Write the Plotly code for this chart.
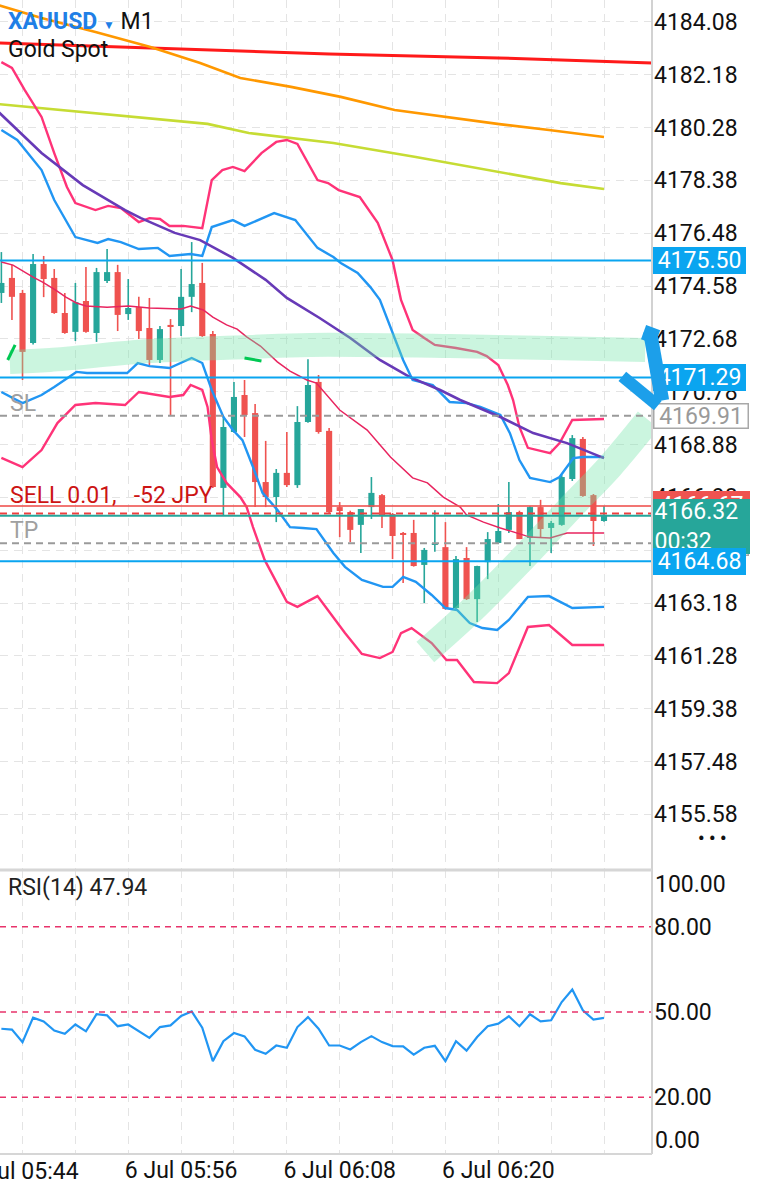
import plotly.graph_objects as go

# ---------------- data ----------------
idx = list(range(58))
opens = [4174.33, 4174.87, 4174.33, 4172.53, 4175.37, 4174.87, 4173.61, 4172.93, 4174.04, 4172.89,
         4174.76, 4175.08, 4173.57, 4173.82, 4173.07, 4171.92, 4173.18, 4173.14, 4174.19, 4174.69,
         4172.85, 4167.32, 4169.33, 4170.66, 4170.01, 4167.53, 4166.99, 4167.86, 4167.42, 4169.69,
         4171.13, 4169.37, 4166.63, 4166.45, 4165.99, 4166.63, 4167.06, 4166.38, 4165.70, 4165.70,
         4164.55, 4165.27, 4165.19, 4163.00, 4164.80, 4163.32, 4164.65, 4165.34, 4165.81, 4166.45,
         4165.52, 4166.63, 4165.88, 4165.99, 4167.64, 4169.08, 4167.06, 4166.13]
highs = [4175.80, 4175.34, 4174.44, 4175.73, 4175.66, 4175.19, 4174.33, 4174.69, 4175.26, 4175.23,
         4175.91, 4175.34, 4174.83, 4174.19, 4174.15, 4173.14, 4173.39, 4175.19, 4176.16, 4175.41,
         4172.96, 4169.90, 4171.13, 4171.20, 4170.34, 4169.01, 4168.00, 4169.33, 4170.26, 4171.95,
         4171.38, 4169.47, 4166.81, 4166.50, 4166.56, 4167.71, 4167.10, 4166.42, 4165.73, 4166.17,
         4165.16, 4166.52, 4166.09, 4164.87, 4165.19, 4164.52, 4165.73, 4166.74, 4167.53, 4166.50,
         4166.66, 4166.89, 4166.13, 4167.78, 4169.22, 4169.15, 4167.10, 4166.67]
lows = [4173.97, 4173.36, 4171.20, 4172.48, 4174.18, 4173.58, 4172.86, 4172.60, 4172.90, 4172.57,
        4174.69, 4172.96, 4173.36, 4172.67, 4171.67, 4171.81, 4169.94, 4172.78, 4173.64, 4172.75,
        4167.32, 4166.31, 4169.30, 4169.15, 4166.63, 4166.63, 4166.09, 4167.35, 4167.32, 4169.66,
        4169.27, 4166.42, 4165.55, 4165.37, 4164.98, 4166.20, 4165.88, 4164.76, 4163.90, 4164.49,
        4163.18, 4165.02, 4162.94, 4162.93, 4163.29, 4162.50, 4164.04, 4165.30, 4165.70, 4165.48,
        4164.51, 4165.55, 4164.98, 4165.96, 4167.57, 4167.00, 4165.23, 4166.10]
closes = [4174.69, 4174.19, 4172.21, 4175.37, 4174.83, 4173.61, 4172.89, 4174.00, 4172.93, 4175.08,
          4175.08, 4173.54, 4173.79, 4172.96, 4171.92, 4173.03, 4173.11, 4174.19, 4174.65, 4172.78,
          4167.35, 4169.51, 4170.59, 4169.94, 4167.53, 4166.99, 4167.86, 4167.42, 4169.69, 4171.02,
          4169.33, 4166.45, 4166.49, 4165.81, 4166.56, 4167.14, 4166.31, 4165.59, 4165.63, 4164.51,
          4165.09, 4165.34, 4162.97, 4164.76, 4163.32, 4164.51, 4165.48, 4165.77, 4166.45, 4165.48,
          4166.63, 4165.84, 4166.06, 4167.71, 4169.11, 4167.03, 4166.13, 4166.32]

rsi = [44.1, 43.8, 39.4, 48.0, 46.7, 43.5, 42.3, 45.6, 43.2, 49.2,
       48.8, 45.0, 45.6, 43.3, 40.9, 44.7, 45.3, 48.6, 50.2, 44.5,
       32.7, 39.7, 42.6, 41.4, 36.7, 35.3, 38.2, 37.4, 44.7, 48.2,
       44.1, 38.2, 38.2, 36.8, 39.4, 41.5, 39.4, 38.0, 37.9, 35.0,
       37.4, 38.1, 32.7, 39.7, 36.4, 41.2, 45.0, 45.9, 48.5, 45.0,
       49.2, 46.7, 47.1, 53.5, 57.9, 50.6, 47.3, 47.94]

# moving averages (candle index, price)
red_ma_x = [-0.3, 16, 31, 47, 61.7]
red_ma_y = [4183.32, 4183.10, 4182.92, 4182.78, 4182.60]
orange_x = [-0.3, 3.8, 8.9, 14.1, 18.8, 22.6, 27.4, 32.1, 37.2, 42.7, 47.1, 51.8, 57]
orange_y = [4184.68, 4184.22, 4183.71, 4183.17, 4182.60, 4182.06, 4181.74, 4181.38, 4180.91,
            4180.62, 4180.40, 4180.19, 4179.94]
lime_x = [-0.3, 7.7, 15.6, 19.5, 23.4, 31.4, 39.2, 47.1, 52.9, 57]
lime_y = [4181.12, 4180.84, 4180.55, 4180.41, 4180.08, 4179.72, 4179.22, 4178.68, 4178.28, 4178.07]
purple_x = [-0.3, 3.8, 7.7, 11.7, 13.2, 16.4, 18.8, 21.9, 25.0, 27.0, 30.1, 33.0, 35.8, 38.6,
            41.5, 43.4, 47.2, 50.3, 53.5, 57]
purple_y = [4180.85, 4179.36, 4178.21, 4177.31, 4177.02, 4176.49, 4176.23, 4175.59, 4174.80,
            4174.15, 4173.43, 4172.71, 4171.92, 4171.31, 4170.84, 4170.48, 4169.87, 4169.29,
            4168.93, 4168.39]

# bollinger middle
mid_x = [0, 1.1, 3, 3.9, 5.1, 6.1, 7.1, 8, 10, 12, 14, 17, 17.9, 19.1, 20, 21.3, 22.3, 23.2,
         24.5, 26.1, 27.3, 28.9, 29.8, 32, 34.6, 36.8, 38.9, 40.3, 41.8, 43.4, 44, 45.6, 47.2,
         48.8, 50, 51.9, 53.5, 55, 57]
mid_y = [4175.44, 4175.33, 4174.90, 4174.72, 4174.44, 4174.18, 4173.97, 4173.86, 4173.82,
         4173.86, 4173.79, 4173.75, 4173.86, 4173.72, 4173.46, 4173.18, 4173.03, 4172.75,
         4172.42, 4171.85, 4171.52, 4171.20, 4171.09, 4170.12, 4169.40, 4168.43, 4167.68,
         4167.50, 4166.99, 4166.63, 4166.35, 4166.09, 4165.88, 4165.70, 4165.55, 4165.52,
         4165.70, 4165.70, 4165.70]
# inner (blue) bands
bu_x = [0, 1.5, 3.8, 5, 7, 9.1, 10.1, 11.3, 13, 14.8, 15.9, 17.9, 19, 19.9, 21.9, 23, 25.8,
        27.8, 29.9, 31.4, 32.1, 33.7, 34.9, 35.8, 38, 38.9, 40.8, 42.4, 44, 45.3, 47.2, 48.1,
        49, 50, 51.9, 52.8, 54.1, 55, 57]
bu_y = [4180.19, 4179.83, 4178.75, 4177.67, 4176.34, 4176.13, 4176.27, 4176.16, 4175.91,
        4175.95, 4175.66, 4175.73, 4175.66, 4176.70, 4176.95, 4176.74, 4177.20, 4176.95,
        4175.95, 4175.62, 4175.41, 4175.05, 4174.54, 4174.08, 4171.92, 4171.20, 4171.02,
        4170.41, 4170.37, 4170.23, 4169.94, 4169.29, 4168.32, 4167.68, 4167.53, 4167.71,
        4168.39, 4168.43, 4168.43]
bl_x = [0, 2, 3.8, 5, 7.1, 8.1, 11.9, 12.9, 14, 15.9, 18, 19, 19.9, 21, 21.9, 22.8, 23.8,
        24.7, 26.1, 27.3, 28.5, 29.8, 31.4, 32.5, 34.1, 36.1, 37, 38, 39.2, 40.7, 42, 43.1,
        44.3, 45.5, 46.9, 48, 49.8, 51.8, 54, 57]
bl_y = [4170.77, 4170.37, 4170.66, 4170.95, 4171.49, 4171.45, 4171.45, 4171.81, 4171.70,
        4171.63, 4171.99, 4171.81, 4170.84, 4169.87, 4169.40, 4169.04, 4168.07, 4167.14,
        4166.53, 4165.91, 4165.88, 4165.84, 4164.98, 4164.48, 4164.01, 4163.76, 4163.76,
        4164.12, 4163.94, 4163.47, 4163.00, 4162.93, 4162.46, 4162.28, 4162.21, 4162.57,
        4163.40, 4163.43, 4163.00, 4163.04]
# outer (pink) bands
pu_x = [0, 1, 2.2, 3.8, 5, 6.2, 7, 8.9, 10.1, 11.3, 13, 14, 15, 15.9, 17.2, 19, 19.9, 20.9,
        21.9, 23, 24.6, 26, 27, 28, 29.9, 30.9, 31.9, 33.9, 35.6, 37, 37.8, 38.9, 40, 41, 43,
        45, 45.9, 47, 47.9, 48.4, 49, 49.8, 51.9, 52.8, 54, 57]
pu_y = [4182.63, 4182.42, 4181.63, 4180.66, 4179.36, 4178.14, 4177.56, 4177.31, 4177.46,
        4177.38, 4176.88, 4177.02, 4176.99, 4176.74, 4176.74, 4176.66, 4178.39, 4178.75,
        4178.86, 4178.71, 4179.36, 4179.76, 4179.83, 4179.69, 4178.39, 4178.28, 4178.03,
        4177.78, 4176.85, 4175.51, 4174.08, 4173.00, 4172.71, 4172.46, 4172.35, 4172.21,
        4172.06, 4171.74, 4171.02, 4170.48, 4169.51, 4168.76, 4168.57, 4168.93, 4169.76, 4169.80]
pl_x = [0, 2, 3.8, 5.3, 7, 8.9, 11.7, 13, 15.9, 17.2, 17.9, 19, 19.5, 19.9, 20.4, 21.3, 22.6,
        23.2, 23.8, 24.9, 27, 28, 29.9, 31.4, 32.5, 34.1, 35.8, 37, 37.8, 38.8, 40.7, 42.1,
        43.1, 44.7, 46.9, 48, 49.8, 51.8, 54, 57]
pl_y = [4168.40, 4168.07, 4168.68, 4169.65, 4170.30, 4170.37, 4170.30, 4170.77, 4170.59,
        4170.66, 4171.02, 4170.84, 4170.23, 4169.04, 4168.07, 4167.50, 4166.99, 4166.63,
        4165.91, 4164.73, 4163.22, 4163.04, 4163.43, 4162.68, 4162.10, 4161.35, 4161.20,
        4161.42, 4162.10, 4162.28, 4161.74, 4161.13, 4161.13, 4160.34, 4160.30, 4160.66,
        4162.32, 4162.39, 4161.67, 4161.67]

# horizontal levels
level_blue = [4175.50, 4171.29, 4164.68]
sl_price = 4169.91
tp_price = 4165.33
sell_price = 4166.67
open_dash_price = 4166.40
bid_price = 4166.32

# axis ticks
y_tick_vals = [4155.58, 4157.48, 4159.38, 4161.28, 4163.18, 4165.08, 4166.98, 4168.88,
               4170.78, 4172.68, 4174.58, 4176.48, 4178.38, 4180.28, 4182.18, 4184.08]
y_tick_text = ["4155.58", "4157.48", "4159.38", "4161.28", "4163.18", "4165.08", "4166.98",
               "4168.88", "4170.78", "4172.68", "4174.58", "4176.48", "4178.38", "4180.28",
               "4182.18", "4184.08"]
x_grid_idx = [2, 7, 12, 17, 22, 27, 32, 37, 42, 47, 52, 57]
x_labels = {17: "6 Jul 05:56", 32: "6 Jul 06:08", 47: "6 Jul 06:20"}
first_label = "6 Jul 05:44"   # label at index 2, partly cut by the left edge
rsi_levels = [20, 50, 80]

# hand-drawn highlight strokes (index, price)
brush1_x = [0.8, 4.6, 14.0, 23.5, 29.2, 42.4, 51.9, 60.9]
brush1_y = [4171.85, 4171.92, 4172.24, 4172.39, 4172.46, 4172.42, 4172.35, 4172.28]
brush2_x = [40.1, 44.3, 49.0, 53.8, 57.6, 61.2]
brush2_y = [4161.42, 4162.86, 4164.66, 4166.60, 4168.11, 4169.76]
# hand-drawn arrow strokes: (paper x px, price, length px, thickness px, angle)
arrow_strokes = [(656.0, 4171.70, 70, 14, 80),
                 (640.0, 4170.80, 46, 12, 39.5),
                 (650.0, 4172.82, 15, 15, 20)]

# ---------------- figure ----------------
W, H = 768, 1200
ML, MR, MT, MB = 0, 116, 0, 46
PW, PH = W - ML - MR, H - MT - MB
SPLIT = (1154 - 870) / PH
FONT = "Roboto"
FS = 23
UP, DN = "#26a69a", "#ef5350"
BLUE_TAG = "#0aa5f0"

fig = go.Figure()

# wicks
for col, cond in ((UP, lambda o, c: c >= o), (DN, lambda o, c: c < o)):
    wx, wy = [], []
    for i, o, h, l, c in zip(idx, opens, highs, lows, closes):
        if cond(o, c):
            wx += [i, i, None]
            wy += [l, h, None]
    fig.add_trace(go.Scatter(x=wx, y=wy, mode="lines", line=dict(color=col, width=1.6),
                             xaxis="x", yaxis="y", hoverinfo="skip", showlegend=False))

# bodies
base = [min(o, c) for o, c in zip(opens, closes)]
height = [max(abs(c - o), 0.04) for o, c in zip(opens, closes)]
colors = [UP if c >= o else DN for o, c in zip(opens, closes)]
fig.add_trace(go.Bar(x=idx, y=height, base=base, width=0.58, marker=dict(color=colors, line_width=0),
                     xaxis="x", yaxis="y", hoverinfo="skip", showlegend=False))

def line(x, y, color, width):
    fig.add_trace(go.Scatter(x=x, y=y, mode="lines", line=dict(color=color, width=width),
                             xaxis="x", yaxis="y", hoverinfo="skip", showlegend=False))

line(red_ma_x, red_ma_y, "#ff1a1a", 3)
line(orange_x, orange_y, "#ff9800", 2.6)
line(lime_x, lime_y, "#c6dc34", 2.6)
line(pu_x, pu_y, "#ff3378", 2.4)
line(pl_x, pl_y, "#ff3378", 2.4)
line(bu_x, bu_y, "#2196f3", 2.4)
line(bl_x, bl_y, "#2196f3", 2.4)
line(mid_x, mid_y, "#e8245f", 1.5)
line(purple_x, purple_y, "#673ab7", 2.6)

# highlight brushes
for bx, by, w in ((brush1_x, brush1_y, 24), (brush2_x, brush2_y, 27)):
    fig.add_trace(go.Scatter(x=bx, y=by, mode="lines", line=dict(color="rgba(110,228,165,0.36)", width=w, shape="spline"),
                             xaxis="x", yaxis="y", hoverinfo="skip", showlegend=False))
for sx, sy in (([0.6, 1.3], [4171.92, 4172.46]), ([23.0, 24.6], [4171.99, 4171.88])):
    fig.add_trace(go.Scatter(x=sx, y=sy, mode="lines", line=dict(color="#00c853", width=3),
                             xaxis="x", yaxis="y", hoverinfo="skip", showlegend=False))

# RSI
fig.add_trace(go.Scatter(x=idx, y=rsi, mode="lines", line=dict(color="#2196f3", width=2.2),
                         xaxis="x2", yaxis="y2", hoverinfo="skip", showlegend=False))

shapes = []
for p in level_blue:
    shapes.append(dict(type="line", xref="x domain", yref="y", x0=0, x1=1, y0=p, y1=p,
                       line=dict(color=BLUE_TAG, width=2), layer="above"))
for p, col, dash in ((sl_price, "#9a9a9a", "7px,5px"), (tp_price, "#9a9a9a", "7px,5px"),
                     (sell_price, "rgba(239,83,80,0.8)", "solid"), (open_dash_price, "#ef3e3e", "7px,5px"),
                     (bid_price, UP, "solid")):
    shapes.append(dict(type="line", xref="x domain", yref="y", x0=0, x1=1, y0=p, y1=p,
                       line=dict(color=col, width=2, dash=dash), layer="above"))
for lv in rsi_levels:
    shapes.append(dict(type="line", xref="x2 domain", yref="y2", x0=0, x1=1, y0=lv, y1=lv,
                       line=dict(color="#e8336b", width=1.5, dash="6px,5px"), layer="above"))
# frame lines
shapes.append(dict(type="line", xref="paper", yref="paper", x0=1, x1=1, y0=0, y1=1,
                   line=dict(color="#d2d2d2", width=2), layer="above"))
shapes.append(dict(type="line", xref="paper", yref="paper", x0=0, x1=1, y0=SPLIT, y1=SPLIT,
                   line=dict(color="#d6d6d6", width=3), layer="above"))
shapes.append(dict(type="line", xref="paper", yref="paper", x0=0, x1=1, y0=0, y1=0,
                   line=dict(color="#d6d6d6", width=2), layer="above"))

ann = []
def px_x(x):
    return x / PW
def px_y(y):
    return 1 - y / PH

ann.append(dict(xref="paper", yref="paper", x=px_x(6), y=px_y(22), xanchor="left", yanchor="middle",
                showarrow=False,
                text="<b><span style='color:#1f7fe6'>XAUUSD</span></b> <span style='color:#1f7fe6;font-size:12px'>▼</span> M1",
                font=dict(family=FONT, size=FS, color="#111")))
ann.append(dict(xref="paper", yref="paper", x=px_x(6), y=px_y(50), xanchor="left", yanchor="middle",
                showarrow=False, text="Gold Spot", font=dict(family=FONT, size=FS, color="#111")))
ann.append(dict(xref="paper", yref="paper", x=px_x(6), y=px_y(888), xanchor="left", yanchor="middle",
                showarrow=False, text="RSI(14) 47.94", font=dict(family=FONT, size=FS, color="#222")))
ann.append(dict(xref="paper", yref="y", x=px_x(8), y=sell_price, xanchor="left", yanchor="middle", yshift=10,
                showarrow=False, text="SELL 0.01,&nbsp;&nbsp; -52 JPY", font=dict(family=FONT, size=FS, color="#cc1414")))
ann.append(dict(xref="paper", yref="y", x=px_x(8), y=sl_price, xanchor="left", yanchor="middle", yshift=12,
                showarrow=False, text="SL", font=dict(family=FONT, size=FS, color="#a0a0a0")))
ann.append(dict(xref="paper", yref="y", x=px_x(8), y=tp_price, xanchor="left", yanchor="middle", yshift=13,
                showarrow=False, text="TP", font=dict(family=FONT, size=FS, color="#a0a0a0")))
ann.append(dict(xref="paper", yref="paper", x=px_x(81), y=0, xanchor="right", yanchor="top", yshift=-2,
                showarrow=False, text=first_label, font=dict(family=FONT, size=FS, color="#111")))
# rsi edge labels
ann.append(dict(xref="paper", yref="paper", x=1, y=px_y(884), xanchor="left", yanchor="middle", xshift=1,
                showarrow=False, text="100.00", font=dict(family=FONT, size=FS, color="#111")))
ann.append(dict(xref="paper", yref="paper", x=1, y=px_y(1140), xanchor="left", yanchor="middle", xshift=1,
                showarrow=False, text="0.00", font=dict(family=FONT, size=FS, color="#111")))
ann.append(dict(xref="paper", yref="paper", x=px_x(712), y=px_y(838), xanchor="center", yanchor="middle",
                showarrow=False, text="<b>• • •</b>", font=dict(family=FONT, size=18, color="#111")))

def tag(price, text, bg, fg, border=None, w=90, h=24, yshift=0, yanchor="middle", align="center"):
    ann.append(dict(xref="paper", yref="y", x=1, y=price, xanchor="left", yanchor=yanchor, xshift=1,
                    yshift=yshift, showarrow=False, text=text, bgcolor=bg, bordercolor=border or bg,
                    borderwidth=1.5, borderpad=0, width=w, height=h, align=align,
                    font=dict(family=FONT, size=FS, color=fg)))

tag(level_blue[0], "4175.50", BLUE_TAG, "white")
tag(level_blue[1], "4171.29", BLUE_TAG, "white")
tag(sl_price, "4169.91", "white", "#9a9a9a", border="#a8a8a8", w=93, h=23)
tag(tp_price, "4165.33", "white", "#9a9a9a", border="#a8a8a8", w=93, h=23)
tag(sell_price, "4166.67", DN, "white", w=94, h=26)
tag(bid_price, "4166.32<br>00:32", UP, "white", w=94, h=52, yanchor="top", yshift=17, align="left")
tag(level_blue[2], "4164.68", BLUE_TAG, "white")

# hand drawn arrow: rotated solid boxes drawn after the tags (same reference) so they cover them
AC = "#1c9fea"
for cx, cp, length, thick, angle in arrow_strokes:
    ann.append(dict(xref="paper", yref="y", x=px_x(cx), y=cp, xanchor="center", yanchor="middle",
                    showarrow=False, text=" ", bgcolor=AC, borderpad=0, borderwidth=0,
                    width=length, height=thick, textangle=angle, font=dict(size=4, color=AC)))

fig.update_layout(
    width=W, height=H, margin=dict(l=ML, r=MR, t=MT, b=MB),
    paper_bgcolor="white", plot_bgcolor="white", barmode="overlay", hovermode=False,
    showlegend=False, shapes=shapes, annotations=ann,
    font=dict(family=FONT, size=FS, color="#111"),
    xaxis=dict(domain=[0, 1], anchor="y", range=[-0.13, 61.54], tickvals=x_grid_idx, showticklabels=False,
               showgrid=True, gridcolor="#e4e4e4", gridwidth=1.3, griddash="8px,6px", zeroline=False,
               showline=False, ticks=""),
    xaxis2=dict(domain=[0, 1], anchor="y2", matches="x", range=[-0.13, 61.54], tickvals=x_grid_idx,
                ticktext=[x_labels.get(v, "") for v in x_grid_idx],
                showgrid=True, gridcolor="#e4e4e4", gridwidth=1.3, griddash="8px,6px", zeroline=False,
                showline=False, ticks="", tickfont=dict(family=FONT, size=FS, color="#111")),
    yaxis=dict(domain=[SPLIT, 1], anchor="x", range=[4153.58, 4184.864], side="right",
               tickvals=y_tick_vals, ticktext=y_tick_text, showgrid=True, gridcolor="#e4e4e4",
               gridwidth=1.3, griddash="8px,6px", zeroline=False, showline=False, ticks="",
               ticklabelstandoff=1, tickfont=dict(family=FONT, size=FS, color="#111")),
    yaxis2=dict(domain=[0, SPLIT], anchor="x2", range=[0, 100], side="right",
                tickvals=rsi_levels, ticktext=["20.00", "50.00", "80.00"], showgrid=False,
                zeroline=False, showline=False, ticks="", ticklabelstandoff=1,
                tickfont=dict(family=FONT, size=FS, color="#111")),
)

fig.write_html("out.html")
